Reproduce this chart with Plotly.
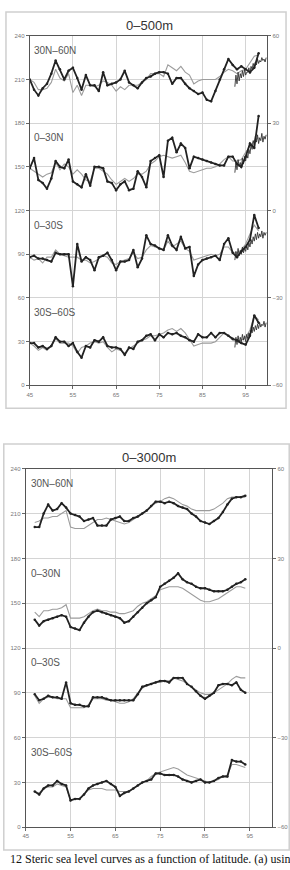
import plotly.graph_objects as go

# ---------------- data: top panel (0-500m), annual 1945..1998 ----------------
years_a = list(range(45, 99))

n_black_a = [210, 203, 199, 204, 207, 214, 223, 217, 210, 216, 218, 211, 203, 213, 206, 206, 202, 215, 206, 207,
             208, 210, 216, 208, 206, 204, 208, 211, 212, 214, 215, 215, 214, 207, 211, 211, 207, 204, 202, 200,
             201, 196, 195, 202, 210, 217, 224, 220, 217, 219, 217, 215, 218, 228]
n_gray_a = [210, 208, 203, 203, 204, 208, 217, 211, 209, 214, 201, 206, 199, 206, 206, 205, 206, 209, 208, 206,
            202, 205, 203, 206, 206, 206, 208, 210, 214, 214, 214, 212, 220, 218, 216, 219, 215, 213, 207, 209,
            210, 210, 210, 210, 212, 215, 217, 216, 214, 216, 217, 222, 226, 227]

tn_black_a = [149, 156, 141, 139, 135, 142, 154, 150, 149, 155, 140, 138, 136, 145, 137, 150, 150, 149, 140, 139,
              134, 138, 140, 134, 135, 147, 143, 136, 154, 156, 158, 143, 168, 170, 160, 166, 163, 149, 157, 156,
              155, 154, 153, 152, 151, 151, 157, 157, 152, 150, 157, 166, 163, 185]
tn_gray_a = [149, 147, 145, 143, 145, 146, 153, 148, 152, 150, 145, 148, 145, 141, 140, 149, 149, 147, 145, 141,
             138, 140, 142, 140, 142, 145, 145, 147, 152, 154, 157, 158, 157, 156, 157, 158, 153, 147, 146, 147,
             148, 149, 149, 150, 152, 155, 157, 154, 154, 155, 160, 164, 168, 170]

ts_black_a = [88, 89, 87, 87, 86, 85, 91, 90, 90, 90, 68, 97, 85, 88, 86, 79, 88, 89, 91, 86,
              79, 85, 85, 86, 93, 81, 87, 103, 97, 96, 94, 93, 103, 96, 93, 102, 94, 95, 75, 83,
              86, 87, 88, 89, 86, 97, 101, 91, 88, 92, 95, 100, 117, 108]
ts_gray_a = [88, 86, 87, 84, 88, 88, 93, 90, 89, 88, 88, 88, 86, 86, 84, 85, 87, 89, 88, 84,
             83, 85, 86, 87, 91, 87, 88, 93, 96, 95, 94, 93, 99, 95, 97, 99, 94, 92, 86, 87,
             88, 89, 90, 89, 90, 95, 95, 91, 91, 93, 97, 104, 110, 106]

s_black_a = [29, 29, 26, 27, 25, 27, 33, 30, 30, 27, 29, 23, 19, 27, 26, 31, 30, 33, 27, 26,
             26, 25, 21, 26, 25, 30, 31, 34, 35, 31, 35, 33, 36, 35, 36, 34, 33, 31, 30, 35,
             33, 33, 36, 33, 36, 36, 34, 32, 31, 29, 28, 34, 48, 43]
s_gray_a = [29, 27, 24, 26, 24, 27, 32, 29, 29, 29, 27, 22, 26, 27, 29, 30, 29, 30, 26, 23,
            25, 24, 22, 25, 27, 29, 31, 32, 34, 34, 35, 36, 38, 39, 37, 39, 36, 31, 27, 28,
            29, 29, 29, 30, 33, 36, 34, 31, 30, 31, 33, 38, 48, 45]

# high-frequency (satellite era) series, quarterly 1992.5..1999.75
years_hf = [92.5 + 0.25 * i for i in range(30)]
n_hf = [205, 213, 207, 215, 209, 214, 211, 216, 212, 217, 213, 215, 215, 218, 214, 219, 217, 221, 218, 222,
        220, 224, 221, 223, 222, 225, 223, 224, 222, 225]
tn_hf = [146, 153, 148, 155, 150, 153, 149, 156, 152, 157, 154, 159, 156, 162, 159, 165, 162, 168, 165, 171,
         167, 172, 166, 170, 168, 173, 167, 171, 169, 172]
ts_hf = [86, 92, 88, 94, 89, 92, 90, 95, 91, 94, 92, 96, 93, 98, 95, 100, 97, 102, 99, 104,
         100, 105, 101, 104, 102, 106, 101, 105, 103, 105]
s_hf = [26, 33, 28, 34, 29, 33, 30, 35, 31, 34, 30, 35, 32, 36, 34, 38, 36, 40, 37, 41,
        38, 42, 39, 43, 40, 42, 41, 44, 40, 43]

# ---------------- data: bottom panel (0-3000m), annual 1947..1994 ----------------
years_b = list(range(47, 95))

n_black_b = [201, 201, 210, 216, 212, 213, 217, 214, 210, 209, 208, 205, 206, 207, 202, 202, 202, 206, 207, 208,
             205, 205, 207, 208, 210, 212, 215, 218, 218, 217, 218, 217, 215, 214, 213, 210, 208, 205, 204, 203,
             205, 207, 211, 216, 220, 221, 221, 222]
n_gray_b = [204, 205, 207, 207, 208, 208, 210, 212, 201, 200, 200, 200, 202, 204, 206, 206, 207, 206, 205, 204,
            203, 204, 206, 208, 210, 212, 215, 217, 218, 220, 221, 220, 218, 216, 215, 213, 212, 212, 212, 212,
            213, 215, 217, 220, 221, 221, 221, 221]

tn_black_b = [139, 135, 138, 139, 140, 141, 142, 141, 134, 133, 132, 137, 141, 144, 145, 144, 143, 142, 141, 140,
              137, 138, 141, 144, 147, 150, 152, 154, 161, 163, 165, 167, 170, 166, 164, 163, 161, 160, 160, 159,
              158, 158, 158, 159, 161, 163, 164, 166]
tn_gray_b = [144, 141, 145, 145, 146, 146, 147, 149, 140, 140, 140, 141, 143, 145, 146, 145, 145, 144, 144, 143,
             143, 144, 145, 148, 150, 151, 153, 155, 159, 160, 161, 161, 161, 160, 158, 156, 154, 152, 151, 151,
             152, 153, 155, 157, 159, 161, 161, 160]

ts_black_b = [89, 85, 86, 88, 87, 87, 86, 97, 83, 82, 82, 81, 81, 87, 87, 87, 86, 85, 85, 85,
              85, 85, 85, 89, 94, 95, 96, 97, 98, 98, 97, 100, 100, 100, 96, 94, 91, 88, 86, 88,
              90, 95, 96, 96, 95, 97, 92, 90]
ts_gray_b = [88, 83, 86, 87, 87, 86, 86, 86, 80, 80, 80, 80, 82, 86, 86, 86, 85, 85, 84, 83,
             83, 84, 86, 90, 93, 95, 96, 97, 97, 98, 98, 100, 99, 98, 96, 94, 92, 90, 89, 89,
             90, 92, 94, 96, 99, 101, 100, 100]

s_black_b = [24, 22, 26, 28, 28, 31, 29, 28, 18, 19, 19, 22, 26, 28, 29, 30, 31, 29, 27, 21,
             23, 24, 26, 28, 30, 31, 32, 36, 36, 35, 35, 35, 34, 32, 31, 30, 31, 32, 30, 30,
             31, 33, 34, 34, 45, 44, 44, 42]
s_gray_b = [24, 23, 26, 27, 27, 29, 28, 27, 18, 19, 19, 22, 25, 26, 26, 26, 25, 25, 25, 24,
            24, 24, 26, 28, 30, 31, 34, 36, 37, 38, 39, 40, 39, 37, 35, 34, 33, 32, 31, 30,
            31, 32, 34, 35, 42, 42, 41, 40]

region_labels = ["30N\u201360N", "0\u201330N", "0\u201330S", "30S\u201360S"]
label_levels = [230, 170, 110, 50]
panel_titles = ["0\u2013500m", "0\u20133000m"]
left_ticks = [0, 30, 60, 90, 120, 150, 180, 210, 240]
right_ticks = [-60, -30, 0, 30, 60]
x_ticks = [45, 55, 65, 75, 85, 95]
caption = "12 Steric sea level curves as a function of latitude. (a) usin"

# ---------------- figure ----------------
W, H = 290, 870
GRAY = "#9c9c9c"
BLACK = "#222222"

fig = go.Figure()

top_sets = [(n_gray_a, n_black_a, n_hf), (tn_gray_a, tn_black_a, tn_hf),
            (ts_gray_a, ts_black_a, ts_hf), (s_gray_a, s_black_a, s_hf)]
for g, b, hf in top_sets:
    fig.add_trace(go.Scatter(x=years_a, y=g, mode="lines", line=dict(color=GRAY, width=1.1),
                             xaxis="x", yaxis="y", showlegend=False))
    fig.add_trace(go.Scatter(x=years_hf, y=hf, mode="lines", line=dict(color="#333333", width=0.9),
                             xaxis="x", yaxis="y", showlegend=False))
    fig.add_trace(go.Scatter(x=years_a, y=b, mode="lines+markers", line=dict(color=BLACK, width=1.8),
                             marker=dict(size=2.5, color=BLACK), xaxis="x", yaxis="y", showlegend=False))

bot_sets = [(n_gray_b, n_black_b), (tn_gray_b, tn_black_b), (ts_gray_b, ts_black_b), (s_gray_b, s_black_b)]
for g, b in bot_sets:
    fig.add_trace(go.Scatter(x=years_b, y=g, mode="lines", line=dict(color=GRAY, width=1.1),
                             xaxis="x2", yaxis="y2", showlegend=False))
    fig.add_trace(go.Scatter(x=years_b, y=b, mode="lines+markers", line=dict(color=BLACK, width=1.8),
                             marker=dict(size=2.5, color=BLACK), xaxis="x2", yaxis="y2", showlegend=False))

# empty traces so the right-hand axes get drawn
fig.add_trace(go.Scatter(x=[], y=[], xaxis="x", yaxis="y3", showlegend=False, hoverinfo="skip"))
fig.add_trace(go.Scatter(x=[], y=[], xaxis="x2", yaxis="y4", showlegend=False, hoverinfo="skip"))

tickfont = dict(size=6, color="#777777", family="Liberation Sans, Arial")
common_x = dict(range=[45, 100], tickvals=x_ticks, showgrid=True, gridcolor="#d4d4d4", gridwidth=1,
                showline=True, linecolor="#555555", linewidth=1, mirror=True, ticks="outside",
                ticklen=3, tickcolor="#666666", tickfont=tickfont, zeroline=False, fixedrange=True)
common_y = dict(range=[0, 240], tickvals=left_ticks, showgrid=True, gridcolor="#d4d4d4", gridwidth=1,
                showline=True, linecolor="#555555", linewidth=1, mirror=True, ticks="outside",
                ticklen=3, tickcolor="#666666", tickfont=tickfont, zeroline=False, fixedrange=True)
common_r = dict(range=[-60, 60], tickvals=right_ticks, showgrid=False, side="right",
                showline=True, linecolor="#555555", linewidth=1, ticks="outside", ticklen=3,
                tickcolor="#666666", tickfont=tickfont, zeroline=False, fixedrange=True)

def px_x(p):
    return p / W

def px_y(p):
    return 1 - p / H

fig.update_layout(
    width=W, height=H,
    margin=dict(l=0, r=0, t=0, b=0),
    paper_bgcolor="white", plot_bgcolor="white",
    showlegend=False,
    xaxis=dict(common_x, domain=[px_x(27), px_x(267)], anchor="y"),
    yaxis=dict(common_y, domain=[px_y(385), px_y(33)], anchor="x"),
    yaxis3=dict(common_r, overlaying="y", anchor="x"),
    xaxis2=dict(common_x, domain=[px_x(23), px_x(272)], anchor="y2"),
    yaxis2=dict(common_y, domain=[px_y(830), px_y(469)], anchor="x2"),
    yaxis4=dict(common_r, overlaying="y2", anchor="x2"),
)

# outer frames
fig.add_shape(type="rect", xref="paper", yref="paper", x0=px_x(3), x1=px_x(286), y0=px_y(408), y1=px_y(9),
              line=dict(color="#cfcfcf", width=1.5), layer="below")
fig.add_shape(type="rect", xref="paper", yref="paper", x0=px_x(0.8), x1=px_x(289.2), y0=px_y(853), y1=px_y(444),
              line=dict(color="#cfcfcf", width=1.5), layer="below")

# titles
fig.add_annotation(text=panel_titles[0], xref="paper", yref="paper", x=px_x(148), y=px_y(23),
                   xanchor="center", yanchor="middle", showarrow=False,
                   font=dict(size=13, color="#333333", family="Liberation Sans, Arial"))
fig.add_annotation(text=panel_titles[1], xref="paper", yref="paper", x=px_x(148), y=px_y(458),
                   xanchor="center", yanchor="middle", showarrow=False,
                   font=dict(size=13, color="#333333", family="Liberation Sans, Arial"))

# region labels
for lab, lev in zip(region_labels, label_levels):
    fig.add_annotation(text=lab, xref="x", yref="y", x=45.6, y=lev, xanchor="left", yanchor="middle",
                       showarrow=False, font=dict(size=10, color="#555555", family="Liberation Sans, Arial"))
    fig.add_annotation(text=lab, xref="x2", yref="y2", x=45.8, y=lev, xanchor="left", yanchor="middle",
                       showarrow=False, font=dict(size=10, color="#555555", family="Liberation Sans, Arial"))

# caption
fig.add_annotation(text=caption, xref="paper", yref="paper", x=px_x(5), y=px_y(853), xanchor="left",
                   yanchor="top", showarrow=False,
                   font=dict(size=12, color="#111111", family="Liberation Serif, Times New Roman"))

fig.write_html("out.html")
